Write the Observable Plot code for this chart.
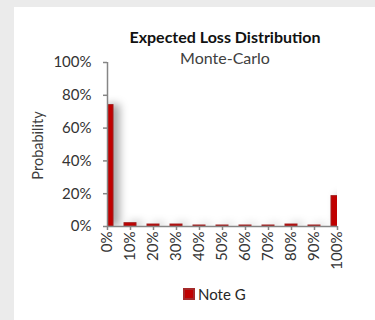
<!DOCTYPE html>
<html>
<head>
<meta charset="utf-8">
<script src="https://cdn.jsdelivr.net/npm/d3@7"></script>
<script src="https://cdn.jsdelivr.net/npm/@observablehq/plot@0.6"></script>
<style>
  html, body { margin: 0; padding: 0; background: #ebebeb; width: 375px; height: 320px; overflow: hidden; }
  #panel { position: absolute; left: 14px; top: 7px; width: 361px; height: 313px; background: #fff; }
  #chart { position: absolute; left: 0; top: 0; }
  .title { position: absolute; left: 0; width: 450px; text-align: center; font-family: Lato, sans-serif; white-space: nowrap; }
  #t1 { top: 27px; font-weight: bold; font-size: 16px; color: #111; }
  #t2 { top: 48px; font-size: 16px; color: #404040; }
  #legend { position: absolute; left: 183px; top: 285px; font-family: Lato, sans-serif; font-size: 15px; color: #262626; display: flex; align-items: center; }
  #legend .sw { width: 8px; height: 8px; background: #c00000; border: 2px solid #a52a2a; margin-right: 3px; }
</style>
</head>
<body>
<div id="panel"></div>
<div class="title" id="t1">Expected Loss Distribution</div>
<div class="title" id="t2">Monte-Carlo</div>
<div id="chart"></div>
<div id="legend"><div class="sw"></div><span>Note G</span></div>
<script>
// Loss buckets and their simulated probabilities (percent)
const categories = ["0%", "10%", "20%", "30%", "40%", "50%", "60%", "70%", "80%", "90%", "100%"];
const probability = [74, 2.0, 1.2, 1.2, 0.6, 0.6, 0.6, 0.6, 1.2, 0.6, 18.5];
const yTicks = [0, 20, 40, 60, 80, 100];
const seriesName = "Note G";

const rows = categories.map((c, i) => ({loss: c, p: probability[i], series: seriesName}));

const axisGray = "#868686";
const textGray = "#333333";

// Frame spans 107..337 horizontally; band centres sit on the frame edges,
// so the end buckets are half-clipped like an "on tick marks" category axis.
const left = 107, right = 337, step = (right - left) / (categories.length - 1);

const chart = Plot.plot({
  width: 375,
  height: 280,
  marginLeft: left,
  marginRight: 375 - right,
  marginTop: 62,
  marginBottom: 54,
  style: {fontFamily: "Lato, sans-serif", fontSize: "15px", background: "transparent", overflow: "visible"},
  x: {type: "band", domain: categories, range: [left - step / 2, right + step / 2], paddingInner: 0.48, paddingOuter: 0.24, label: null},
  y: {domain: [0, 100], label: null},
  marks: [
    Plot.barY(rows, {x: "loss", y: "p", fill: "#c00000", stroke: "#a01c1c", strokeWidth: 1, clip: true}),
    Plot.ruleY([0], {stroke: axisGray, strokeWidth: 1.5}),
    Plot.ruleX([categories[0]], {y1: 0, y2: 100, stroke: axisGray, strokeWidth: 1.5}),
    Plot.axisY({ticks: yTicks, tickSize: 4, tickPadding: 12, tickFormat: d => d + "%", stroke: axisGray, strokeWidth: 1.5, fill: textGray, label: null}),
    Plot.axisX({tickSize: 4, tickPadding: 1, tickRotate: -90, stroke: axisGray, strokeWidth: 1.5, fill: textGray, label: null}),
    Plot.text(["Probability"], {frameAnchor: "left", textAnchor: "middle", dx: -69, dy: 1, rotate: -90, fill: "#404040", fontSize: 14.5})
  ]
});

// soft shadow to the right of each bar
const bars = chart.querySelector('g[aria-label="bar"]');
if (bars) bars.style.filter = "drop-shadow(6px 0px 4px rgba(0,0,0,0.35))";

document.getElementById("chart").appendChild(chart);
</script>
</body>
</html>
